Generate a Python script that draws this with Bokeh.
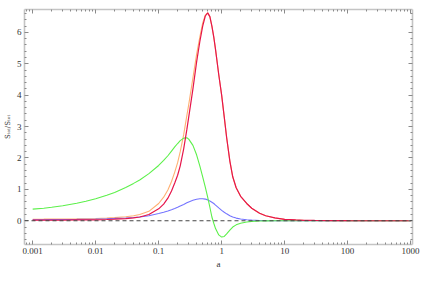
from bokeh.plotting import figure
from bokeh.models import (FixedTicker, LinearAxis, LogAxis, CustomJSTickFormatter, Span,
                          CustomLabelingPolicy)
from bokeh.embed import file_html
from bokeh.resources import INLINE
import numpy as np

# ---- data ----
a_vals = [0.001, 0.0015, 0.002, 0.003, 0.005, 0.007, 0.01, 0.015, 0.02, 0.03, 0.04, 0.05,
          0.07, 0.1, 0.12, 0.14, 0.16, 0.18, 0.2, 0.22, 0.25, 0.28, 0.3, 0.35, 0.4, 0.45,
          0.5, 0.55, 0.6, 0.65, 0.7, 0.75, 0.8, 0.9, 1.0, 1.1, 1.2, 1.35, 1.5, 1.7, 2,
          2.5, 3, 4, 5, 7, 10, 15, 20, 30, 50, 100, 300, 1000]

red = [0.02, 0.02, 0.02, 0.022, 0.025, 0.027, 0.03, 0.04, 0.05, 0.07, 0.09, 0.12,
       0.2, 0.38, 0.53, 0.72, 0.95, 1.2, 1.45, 1.75, 2.3, 2.9, 3.3, 4.2, 5.05, 5.7,
       6.2, 6.52, 6.62, 6.5, 6.2, 5.85, 5.45, 4.65, 4.0, 3.3, 2.65, 1.9, 1.4, 1.05, 0.78,
       0.55, 0.4, 0.24, 0.16, 0.09, 0.045, 0.025, 0.015, 0.01, 0.006, 0.003, 0.001, 0.0]

orange = [0.05, 0.052, 0.055, 0.058, 0.062, 0.066, 0.07, 0.085, 0.1, 0.13, 0.16, 0.2,
          0.3, 0.55, 0.75, 0.98, 1.25, 1.55, 1.85, 2.2, 2.75, 3.35, 3.7, 4.55, 5.3, 5.85,
          6.3, 6.55, 6.62, 6.5, 6.2, 5.85, 5.45, 4.65, 4.0, 3.3, 2.65, 1.9, 1.4, 1.05, 0.78,
          0.55, 0.4, 0.24, 0.16, 0.09, 0.045, 0.025, 0.015, 0.01, 0.006, 0.003, 0.001, 0.0]

green = [0.37, 0.40, 0.43, 0.48, 0.56, 0.62, 0.7, 0.81, 0.9, 1.06, 1.19, 1.3,
         1.5, 1.76, 1.92, 2.07, 2.22, 2.35, 2.46, 2.55, 2.63, 2.645, 2.6, 2.4, 2.1, 1.75,
         1.4, 1.07, 0.75, 0.43, 0.12, -0.08, -0.25, -0.45, -0.52, -0.5, -0.42, -0.3, -0.2, -0.13, -0.08,
         -0.04, -0.02, -0.008, -0.003, 0.0, 0.0, 0.0, 0.0, 0.0, 0.0, 0.0, 0.0, 0.0]

blue = [0.03, 0.032, 0.035, 0.04, 0.045, 0.05, 0.055, 0.065, 0.075, 0.09, 0.105, 0.12,
        0.16, 0.23, 0.27, 0.31, 0.35, 0.39, 0.43, 0.47, 0.52, 0.57, 0.6, 0.65, 0.685, 0.7,
        0.7, 0.69, 0.665, 0.63, 0.59, 0.55, 0.5, 0.41, 0.33, 0.27, 0.22, 0.16, 0.12, 0.085, 0.055,
        0.032, 0.02, 0.01, 0.005, 0.002, 0.0, 0.0, 0.0, 0.0, 0.0, 0.0, 0.0, 0.0]

x_major = [0.001, 0.01, 0.1, 1, 10, 100, 1000]
y_major = [0, 1, 2, 3, 4, 5, 6]

# ---- figure ----
x_minor = [k * 10.0 ** e for e in range(-4, 4) for k in range(2, 10)]
y_minor = [round(v, 1) for v in np.arange(-0.8, 6.81, 0.2) if abs(v - round(v)) > 1e-6]

p = figure(width=420, height=271, x_axis_type="log",
           x_range=(10 ** -3.13, 10 ** 3.03), y_range=(-0.756, 6.727),
           output_backend="svg", toolbar_location=None,
           min_border_left=2, min_border_right=1, min_border_top=1, min_border_bottom=2)
p.grid.visible = False
p.outline_line_color = None
p.background_fill_color = "white"
p.border_fill_color = "white"

FONT = "Liberation Serif"
frame_col = "#c4c4c4"
tick_col = "#8a8a8a"
hide_all = CustomLabelingPolicy(code="""
const n = indices.size;
for (let i = 0; i < n; i++) indices.unset(i);
return indices;
""")

def style(ax, labels=True):
    ax.axis_line_color = frame_col
    ax.axis_line_width = 1.6
    ax.major_tick_in = 4
    ax.major_tick_out = 0
    ax.minor_tick_in = 2
    ax.minor_tick_out = 0
    ax.major_tick_line_color = tick_col
    ax.minor_tick_line_color = tick_col
    ax.major_label_text_font = FONT
    ax.major_label_text_font_size = "9px"
    ax.major_label_text_color = "#333333"
    ax.major_label_standoff = 3 if labels else 0
    ax.axis_label_text_font = FONT
    ax.axis_label_text_font_size = "9px"
    ax.axis_label_text_font_style = "normal"
    ax.axis_label_text_color = "#333333"
    ax.axis_label_standoff = 2
    if not labels:
        ax.major_label_policy = hide_all

xt = FixedTicker(ticks=x_major, minor_ticks=x_minor)
yt = FixedTicker(ticks=y_major, minor_ticks=y_minor)
fmt = CustomJSTickFormatter(code="return tick.toString();")

p.xaxis.ticker = xt
p.xaxis.formatter = fmt
p.xaxis.axis_label = "a"
p.yaxis.ticker = yt
p.yaxis.axis_label = "Sₜₒₜ/Sₜₒₜ"
style(p.xaxis[0])
style(p.yaxis[0])
p.xaxis.major_label_standoff = 3
p.yaxis.axis_label_text_font = "DejaVu Serif"
p.yaxis.axis_label_text_font_size = "7px"

top = LogAxis(ticker=FixedTicker(ticks=x_major, minor_ticks=x_minor), formatter=fmt)
style(top, labels=False)
p.add_layout(top, "above")
right = LinearAxis(ticker=FixedTicker(ticks=y_major, minor_ticks=y_minor))
style(right, labels=False)
p.add_layout(right, "right")

p.line(a_vals, orange, line_color="#ffb072", line_width=1.1)
p.line(a_vals, blue, line_color="#7474ff", line_width=1.1)
p.line(a_vals, green, line_color="#5cf04a", line_width=1.1)
p.line(a_vals, red, line_color="#e6154a", line_width=1.2)

p.add_layout(Span(location=0, dimension="width", line_color="#444444",
                  line_dash="4 3", line_width=1))

open("out.html", "w").write(file_html(p, INLINE))
